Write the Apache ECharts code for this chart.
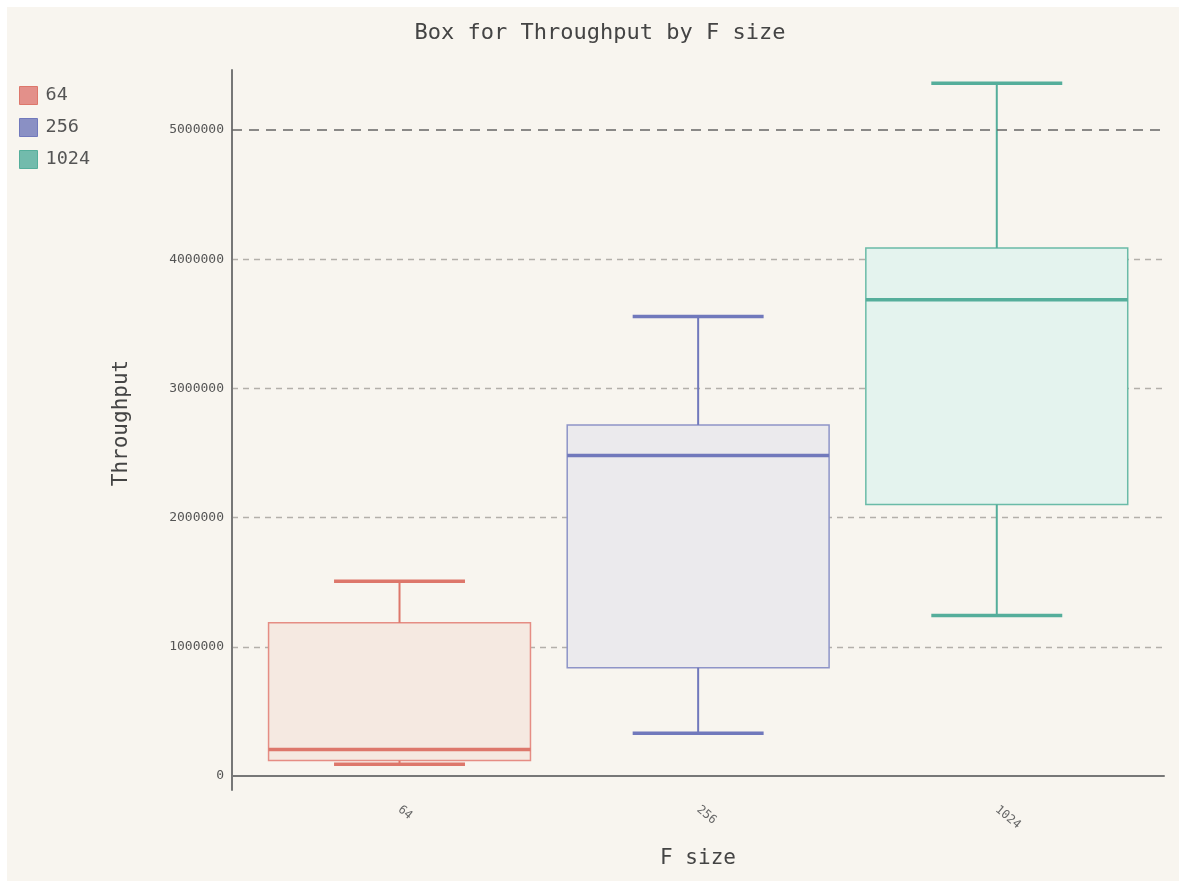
<!DOCTYPE html>
<html>
<head>
<meta charset="utf-8">
<script src="https://cdn.jsdelivr.net/npm/echarts@6/dist/echarts.min.js"></script>
<style>
html, body { margin: 0; padding: 0; background: #ffffff; }
#chart { position: absolute; left: 7px; top: 7px; width: 1172px; height: 874px; background: #F8F5EF; }
</style>
</head>
<body>
<div id="chart"></div>
<script>
// ---- data ----
const categories = ['64', '256', '1024'];
const lows    = [90000,   330000,  1243000];
const q1s     = [119000,  838000,  2101000];
const medians = [206000,  2480000, 3686000];
const q3s     = [1186000, 2717000, 4086000];
const highs   = [1508000, 3557000, 5361000];
const yTickValues = [0, 1000000, 2000000, 3000000, 4000000, 5000000];
const majorGridValue = 5000000;
const yMax = 5464000;

// ---- styles ----
const FONT = '"DejaVu Sans Mono", "Liberation Mono", monospace';
const palette = [
  { line: '#DD776B', border: '#E58D84', fill: '#F5E9E1', legend: '#E3908A' },
  { line: '#7179BC', border: '#8E94C8', fill: '#EBEAED', legend: '#8A90C4' },
  { line: '#55AE9B', border: '#6ABBA8', fill: '#E4F3EE', legend: '#72BBAC' }
];

function makeRender(c) {
  return function (params, api) {
    const x = api.value(0);
    const lo = api.coord([x, api.value(1)]);
    const q1 = api.coord([x, api.value(2)]);
    const md = api.coord([x, api.value(3)]);
    const q3 = api.coord([x, api.value(4)]);
    const hi = api.coord([x, api.value(5)]);
    const band = api.size([1, 0])[0];
    const bw = band * 0.877;
    const cw = bw / 2;
    const cx = md[0];
    return {
      type: 'group',
      children: [
        { type: 'rect', shape: { x: cx - bw / 2, y: q3[1], width: bw, height: q1[1] - q3[1] },
          style: { fill: c.fill, stroke: c.border, lineWidth: 1.5 } },
        { type: 'line', shape: { x1: cx, y1: q3[1], x2: cx, y2: hi[1] },
          style: { stroke: c.line, lineWidth: 2 } },
        { type: 'line', shape: { x1: cx, y1: q1[1], x2: cx, y2: lo[1] },
          style: { stroke: c.line, lineWidth: 2 } },
        { type: 'line', shape: { x1: cx - cw / 2, y1: hi[1], x2: cx + cw / 2, y2: hi[1] },
          style: { stroke: c.line, lineWidth: 3.5 } },
        { type: 'line', shape: { x1: cx - cw / 2, y1: lo[1], x2: cx + cw / 2, y2: lo[1] },
          style: { stroke: c.line, lineWidth: 3.5 } },
        { type: 'line', shape: { x1: cx - bw / 2, y1: md[1], x2: cx + bw / 2, y2: md[1] },
          style: { stroke: c.line, lineWidth: 3.5 } }
      ]
    };
  };
}

const chart = echarts.init(document.getElementById('chart'), null, { renderer: 'canvas' });

const boxSeries = categories.map(function (name, i) {
  return {
    type: 'custom',
    name: name,
    xAxisIndex: 1,
    yAxisIndex: 1,
    itemStyle: { color: palette[i].legend },
    encode: { x: 0, y: [1, 2, 3, 4, 5] },
    data: [[i, lows[i], q1s[i], medians[i], q3s[i], highs[i]]],
    renderItem: makeRender(palette[i])
  };
});

const option = {
  animation: false,
  backgroundColor: 'transparent',
  title: {
    text: 'Box for Throughput by F size',
    left: 593,
    textAlign: 'center',
    top: 15,
    padding: 0,
    textStyle: { fontFamily: FONT, fontSize: 22, fontWeight: 'normal', color: '#444' }
  },
  legend: {
    orient: 'vertical',
    left: 12,
    top: 79,
    padding: 0,
    itemWidth: 18,
    itemHeight: 18,
    itemGap: 13,
    icon: 'rect',
    textStyle: { fontFamily: FONT, fontSize: 18.5, color: '#555', padding: [0, 0, 0, 3] },
    data: categories.map(function (name, i) {
      return { name: name, itemStyle: { color: palette[i].legend, borderColor: palette[i].line, borderWidth: 1 } };
    })
  },
  grid: [
    { left: 225, top: 63, width: 932, height: 706 },
    { left: 243.2, top: 63, width: 895.9, height: 706 },
    { left: 225, top: 63, width: 932, height: 720 }
  ],
  xAxis: [
    {
      gridIndex: 0, type: 'category', data: categories,
      axisLine: { show: true, lineStyle: { color: '#777', width: 2 } },
      axisTick: { show: false }, axisLabel: { show: false }, splitLine: { show: false },
      name: 'F size', nameLocation: 'middle', nameGap: 72,
      nameTextStyle: { fontFamily: FONT, fontSize: 21, color: '#444' }
    },
    {
      gridIndex: 1, type: 'category', data: categories, boundaryGap: true,
      axisLine: { show: false }, axisTick: { show: false }, splitLine: { show: false },
      axisLabel: { rotate: -40, margin: 32, fontFamily: FONT, fontSize: 12, color: '#666' }
    },
    { gridIndex: 2, type: 'value', show: false }
  ],
  yAxis: [
    {
      gridIndex: 0, type: 'value', min: 0, max: yMax, interval: 1000000,
      axisLine: { show: false }, axisTick: { show: false },
      axisLabel: {
        margin: 8, fontFamily: FONT, fontSize: 13, color: '#555',
        showMaxLabel: false,
        formatter: function (v) { return yTickValues.indexOf(v) >= 0 ? String(v) : ''; }
      },
      splitLine: {
        show: true,
        lineStyle: {
          color: ['rgba(0,0,0,0)', '#B3B0AA', '#B3B0AA', '#B3B0AA', '#B3B0AA', 'rgba(0,0,0,0)', 'rgba(0,0,0,0)'],
          type: [6, 5], width: 1.3
        }
      },
      name: 'Throughput', nameLocation: 'middle', nameGap: 100, nameRotate: 90,
      nameTextStyle: { fontFamily: FONT, fontSize: 21, color: '#444' }
    },
    { gridIndex: 1, type: 'value', min: 0, max: yMax, show: false },
    {
      gridIndex: 2, type: 'value', min: 0, max: 1,
      axisLine: { show: true, lineStyle: { color: '#777', width: 2 } },
      axisTick: { show: false }, axisLabel: { show: false }, splitLine: { show: false }
    }
  ],
  series: [
    {
      type: 'line', name: 'major', xAxisIndex: 0, yAxisIndex: 0, data: [],
      silent: true,
      markLine: {
        silent: true, symbol: ['none', 'none'], label: { show: false },
        lineStyle: { color: '#666', type: [10, 7], width: 1.5 },
        data: [{ yAxis: majorGridValue }]
      }
    }
  ].concat(boxSeries)
};

chart.setOption(option);
</script>
</body>
</html>
